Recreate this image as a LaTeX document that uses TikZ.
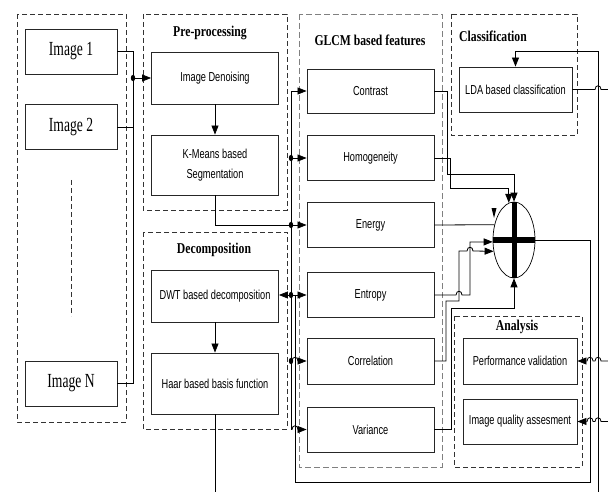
\documentclass[tikz,border=0pt]{standalone}
\usepackage{fontspec}
\setmainfont{Liberation Sans}
\newfontfamily\boxfont[FakeStretch=0.71]{Liberation Sans}
\newfontfamily\titlefont[FakeStretch=0.78]{Liberation Serif}
\newfontfamily\imgfont[FakeStretch=0.68]{Liberation Serif}
\usetikzlibrary{arrows.meta,shapes.geometric}
\begin{document}
\begin{tikzpicture}[x=1pt,y=-1pt,
  line width=0.8pt,
  box/.style={draw=black!85, line width=0.9pt, minimum width=127pt, inner sep=1pt, align=center,
    font=\boxfont\fontsize{13}{20}\selectfont},
  smallbox/.style={box, minimum width=114pt},
  imgbox/.style={draw=black!85, line width=0.9pt, minimum width=92pt, minimum height=45pt, inner sep=1pt,
    font=\imgfont\fontsize{20}{22}\selectfont},
  group/.style={draw=black!80, line width=0.8pt, dash pattern=on 5pt off 3pt},
  ggroup/.style={draw=black!50, line width=0.9pt, dash pattern=on 6pt off 3pt},
  title/.style={inner sep=0pt, font=\titlefont\bfseries\fontsize{15}{17}\selectfont},
  arr/.style={-{Triangle[length=9pt,width=7pt]}},
  jdot/.style={fill=black},
]
\useasboundingbox (0,0) rectangle (608,492);

% ---------- group frames ----------
\draw[group] (17,14) rectangle (126,422);
\draw[group] (143,14) rectangle (287,210);
\draw[group] (143,232) rectangle (287,429);
\draw[ggroup] (299,14) rectangle (442,467);
\draw[group] (451,14) rectangle (577,135);
\draw[group] (454,316) rectangle (582,467);
\draw[group] (71,180) -- (71,316);

% ---------- titles ----------
\node[title] (tpre) at (210,33) {Pre-processing};
\node[title] (tglcm) at (370,40) {GLCM based features};
\node[title] (tcls) at (493,36) {Classification};
\node[title] (tdec) at (214,250) {Decomposition};
\node[title] (tana) at (517,327) {Analysis};

% ---------- nodes ----------
\node[imgbox] (img1) at (71,51.5) {Image 1};
\node[imgbox] (img2) at (71,127) {Image 2};
\node[imgbox] (imgN) at (71,383.5) {Image N};

\node[box, minimum height=52pt] (den) at (215,78) {Image Denoising};
\node[box, minimum height=60pt] (km) at (215,165) {K-Means based\\Segmentation};
\node[box, minimum height=52pt] (dwt) at (215,296) {DWT based decomposition};
\node[box, minimum height=61pt] (haar) at (215,383.5) {Haar based basis function};

\node[box, minimum height=44pt] (contrast) at (370.5,91) {Contrast};
\node[box, minimum height=45pt] (homog) at (370.5,158) {Homogeneity};
\node[box, minimum height=45pt] (energy) at (370.5,225) {Energy};
\node[box, minimum height=45pt] (entropy) at (370.5,295) {Entropy};
\node[box, minimum height=46pt] (corr) at (370.5,361) {Correlation};
\node[box, minimum height=45pt] (var) at (370.5,429.5) {Variance};

\node[smallbox, minimum width=113pt, minimum height=45pt] (lda) at (515.5,89.5) {LDA based classification};
\node[smallbox, minimum height=46pt] (perf) at (520,361) {Performance validation};
\node[smallbox, minimum height=45pt] (iqa) at (520,421.5) {Image quality assesment};

\node[draw=black, ellipse, line width=0.7pt, minimum width=42pt, minimum height=76pt, inner sep=0pt] (adder) at (514,240) {};
\draw[line width=5.5pt] (adder.west) -- (adder.east);
\draw[line width=5pt] (adder.north) -- (adder.south);

% ---------- helper coordinates ----------
\coordinate (xI) at (133,0);
\coordinate (xA) at (291,0);
\coordinate (xB) at (295,0);
\coordinate (edgeR) at (608,0);
\coordinate (edgeB) at (0,492);
\coordinate (rbot) at (598,492);

% ---------- image inputs ----------
\draw (img1.east) -| (imgN.east -| xI) -- (imgN.east);
\draw (img2.east) -- (img2.east -| xI);
\draw[arr] (den.west -| xI) -- (den.west);
\fill[jdot] (den.west -| xI) ellipse (2.2pt and 3.2pt);

\draw[arr] (den.south) -- (km.north);
\draw[arr] (dwt.south) -- (haar.north);
\draw (haar.south) -- (haar.south |- edgeB);

% ---------- feature bus ----------
\draw[arr] (var.west -| xA) |- (contrast.west);
\draw[arr] (km.south) |- (energy.west);
\draw[arr] (homog.west -| xA) -- (homog.west);
\draw[arr] (entropy.west -| xA) -- (entropy.west);
\draw[arr] (corr.west -| xA) -- (292,361) .. controls (292,356) and (298,356) .. (298,361) -- (corr.west);
\draw[arr] (var.west -| xA) -- (292,429.5) .. controls (292,424.5) and (298,424.5) .. (298,429.5) -- (var.west);
\fill[jdot] (homog.west -| xA) ellipse (2.2pt and 3.2pt);
\fill[jdot] (energy.west -| xA) ellipse (2.2pt and 3.2pt);
\fill[jdot] (entropy.west -| xA) ellipse (2.2pt and 3.2pt);
\fill[jdot] (corr.west -| xA) ellipse (2.2pt and 3.2pt);

% ---------- feedback loop to DWT ----------
\draw[arr] (adder.east) -| (590,482) -| (entropy.west -| xB) -- (entropy.west -| dwt.east);

% ---------- features to adder ----------
\draw[arr] (contrast.east) -| (447,174) -| (adder.north);
\draw[arr] (homog.east) -| (450,188) -| (adder.98);
\draw (energy.east) -- (adder.142);
\fill (491.5,208) -- (496.5,208) -- (494,218) -- cycle;
\draw[arr] (entropy.east) -- (456,295) .. controls (456,290) and (462,290) .. (462,295) -- (470,295) -- (470,242) -- (adder.185);
\draw[arr] (corr.east) -- (446,361) -- (446,301) -- (459,301) -- (459,251) -- (467,251) .. controls (467,246) and (473,246) .. (473,251) -- (adder.209);
\draw[arr] (var.east) -| (451,308) -| (adder.south);

% ---------- classification / analysis ----------
\draw[arr] (rbot) -- (598,51) -| (lda.north);
\draw (lda.east) -- (595,89.5) .. controls (595,84.5) and (601,84.5) .. (601,89.5) -- (lda.east -| edgeR);
\draw[arr] (perf.east -| edgeR) -- (601,361) .. controls (601,356) and (595,356) .. (595,361)
  -- (593,361) .. controls (593,356) and (587,356) .. (587,361) -- (perf.east);
\draw[arr] (iqa.east -| edgeR) -- (601,421.5) .. controls (601,416.5) and (595,416.5) .. (595,421.5)
  -- (593,421.5) .. controls (593,416.5) and (587,416.5) .. (587,421.5) -- (iqa.east);
\end{tikzpicture}
\end{document}
